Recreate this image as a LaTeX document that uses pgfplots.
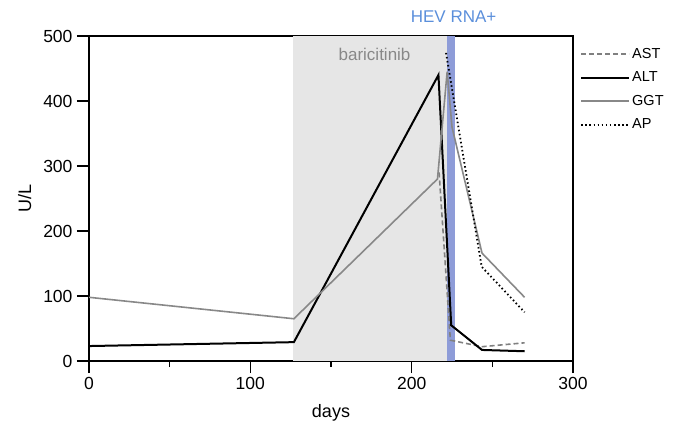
\documentclass[border=0pt]{standalone}
\usepackage{fontspec}
\setmainfont{Liberation Sans}
\usepackage{pgfplots}
\pgfplotsset{compat=1.18}
\definecolor{bandblue}{HTML}{8E9CD8}
\definecolor{titleblue}{HTML}{5B8FDB}
\definecolor{shade}{HTML}{E6E6E6}
\definecolor{ggt}{HTML}{888888}
\definecolor{ast}{HTML}{808080}
\begin{document}
\begin{tikzpicture}
\begin{axis}[
  name=ax,
  scale only axis,
  width=484pt, height=325pt,
  xmin=0, xmax=300, ymin=0, ymax=500,
  xtick={0,100,200,300}, ytick={0,100,200,300,400,500},
  minor xtick={50,150,250},
  tick align=outside,
  major tick length=12pt, minor tick length=6pt,
  xtick pos=bottom, ytick pos=left,
  every tick/.style={black, line width=1.5pt},
  axis line style={line width=1.5pt},
  tick label style={font=\fontsize{17.5}{19}\selectfont},
  xticklabel style={yshift=-1pt},
  yticklabel style={xshift=-1pt},
  /pgf/number format/assume math mode=true,
  label style={font=\fontsize{18}{20}\selectfont},
  xlabel={days}, ylabel={U/L},
  xlabel style={yshift=-8pt},
  ylabel style={yshift=5pt},
  clip=false,
  legend style={at={(1,1)}, anchor=north west, xshift=4pt, yshift=-7pt, draw=none,
    fill=none, font=\fontsize{14.5}{16}\selectfont, row sep=5.5pt,
    nodes={text height=11pt, text depth=3pt}},
  legend cell align=left,
  legend image code/.code={\draw[#1] (0pt,0pt) -- (35pt,0pt); \path (0pt,0pt) -- (48pt,0pt);},
]
\addplot[fill=shade, draw=none, forget plot] coordinates {(126.5,0) (222,0) (222,500) (126.5,500)} -- cycle;
\addplot[fill=bandblue, draw=none, forget plot] coordinates {(222,0) (227,0) (227,500) (222,500)} -- cycle;
\addplot[ast, line width=1.6pt, dash pattern=on 5pt off 3pt] coordinates {(217,290) (224,32) (243.6,22) (270,28)};
\addlegendentry{AST}
\addplot[black, line width=2pt] coordinates {(0,23) (127,29) (216.6,440) (224.5,55) (243.6,17) (270,15)};
\addlegendentry{ALT}
\addplot[ggt, line width=1.6pt] coordinates {(0,98) (127,65) (216,280) (222,445) (225,360) (243.6,166) (270,98)};
\addlegendentry{GGT}
\addplot[black, line width=1.8pt, dash pattern=on 1.5pt off 2.6pt] coordinates {(221.3,474) (243.4,145) (270,75)};
\addlegendentry{AP}
\node[text=ggt, font=\fontsize{17}{19}\selectfont] at (axis cs:177,471) {baricitinib};
\node[text=titleblue, font=\fontsize{17}{19}\selectfont] at (axis cs:226,529) {HEV RNA+};
\end{axis}
\pgfresetboundingbox
\path[use as bounding box] ([shift={(-89pt,-70pt)}]ax.south west) rectangle ([shift={(115pt,36pt)}]ax.north east);
\end{tikzpicture}
\end{document}
